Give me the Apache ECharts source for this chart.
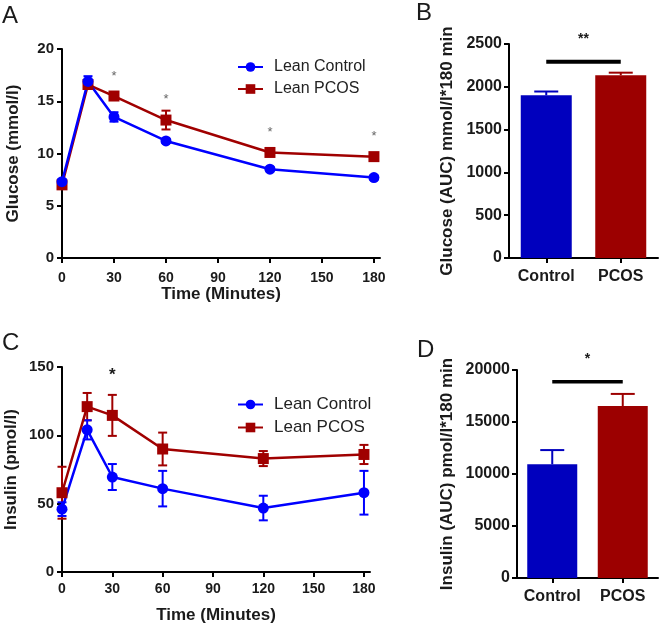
<!DOCTYPE html>
<html>
<head>
<meta charset="utf-8">
<script src="https://cdn.jsdelivr.net/npm/echarts@6/dist/echarts.min.js"></script>
<style>
html,body{margin:0;padding:0;background:#fff;}
#main{width:661px;height:625px;}
</style>
</head>
<body>
<div id="main"></div>
<script>
// ---- data ----
const timeMin = [0, 15, 30, 60, 120, 180];
const timeTicks = [0, 30, 60, 90, 120, 150, 180];

const glucoseControl = [7.3, 16.9, 13.5, 11.2, 8.5, 7.7];
const glucoseControlSem = [0.25, 0.5, 0.45, 0.2, 0.2, 0.2];
const glucosePcos = [7.0, 16.6, 15.5, 13.2, 10.1, 9.7];
const glucosePcosSem = [0.2, 0.3, 0.3, 0.9, 0.2, 0.2];
const glucoseSigTimes = [30, 60, 120, 180];
const glucoseSigLevel = [17.4, 15.2, 12.0, 11.6];

const insulinControl = [46, 104, 69.5, 61, 46.8, 58];
const insulinControlSem = [5, 7, 9.5, 13, 9, 16];
const insulinPcos = [58, 121, 114.6, 90, 83, 86];
const insulinPcosSem = [19, 10, 15, 12, 5.5, 7];
const insulinSigTimes = [30];
const insulinSigLevel = [143.9];

const groups = ['Control', 'PCOS'];
const glucoseAuc = [1900, 2135];
const glucoseAucSem = [45, 30];
const glucoseAucSigLevel = 2293;
const glucoseAucStarLevel = 2560;

const insulinAuc = [10930, 16540];
const insulinAucSem = [1370, 1160];
const insulinAucSigLevel = 18880;
const insulinAucStarLevel = 21070;

// ---- styles ----
const ff = "Arial, 'Liberation Sans', sans-serif";
const ink = '#1a1a1a';
const blueLine = '#0000FF';
const redLine = '#A00000';
const blueBar = '#0000BE';
const redBar = '#9C0000';

function pairs(xs, ys) { return xs.map((x, i) => [x, ys[i]]); }
function errData(xs, ys, sem) { return xs.map((x, i) => [x, ys[i] - sem[i], ys[i] + sem[i]]); }

function errRender(color, capW, upOnly) {
  return function (params, api) {
    const x = api.value(0), lo = api.value(1), hi = api.value(2);
    const pL = api.coord([x, lo]);
    const pH = api.coord([x, hi]);
    const st = { stroke: color, lineWidth: 2 };
    const ch = [
      { type: 'line', shape: { x1: pL[0], y1: pL[1], x2: pH[0], y2: pH[1] }, style: st },
      { type: 'line', shape: { x1: pH[0] - capW / 2, y1: pH[1], x2: pH[0] + capW / 2, y2: pH[1] }, style: st }
    ];
    if (!upOnly) ch.push({ type: 'line', shape: { x1: pL[0] - capW / 2, y1: pL[1], x2: pL[0] + capW / 2, y2: pL[1] }, style: st });
    return { type: 'group', children: ch };
  };
}

function textRender(text, font, color) {
  return function (params, api) {
    const p = api.coord([api.value(0), api.value(1)]);
    return { type: 'text', style: { text: text, x: p[0], y: p[1], align: 'center', verticalAlign: 'middle', font: font, fill: color } };
  };
}
// star centred between two categories
function midTextRender(text, font, color) {
  return function (params, api) {
    const p1 = api.coord([api.value(0), api.value(2)]);
    const p2 = api.coord([api.value(1), api.value(2)]);
    return { type: 'text', style: { text: text, x: (p1[0] + p2[0]) / 2, y: p1[1], align: 'center', verticalAlign: 'middle', font: font, fill: color } };
  };
}

function sigBarRender(width) {
  return function (params, api) {
    const p1 = api.coord([api.value(0), api.value(2)]);
    const p2 = api.coord([api.value(1), api.value(2)]);
    return { type: 'line', shape: { x1: p1[0], y1: p1[1], x2: p2[0], y2: p2[1] }, style: { stroke: '#000', lineWidth: width } };
  };
}

const axisLine = { show: true, lineStyle: { color: '#000', width: 2 } };
const axisTick = { show: true, length: 5, lineStyle: { color: '#000', width: 2 } };
const plain = v => String(v);

function timeAxis(grid, max, gap, margin) {
  return {
    type: 'value', gridIndex: grid, min: 0, max: max,
    axisLine: axisLine,
    axisTick: Object.assign({ customValues: timeTicks }, axisTick),
    axisLabel: { customValues: timeTicks, formatter: plain, fontFamily: ff, fontWeight: 'bold', fontSize: 14, color: ink, margin: margin },
    splitLine: { show: false },
    name: 'Time (Minutes)', nameLocation: 'middle', nameGap: gap,
    nameTextStyle: { fontFamily: ff, fontWeight: 'bold', fontSize: 17, color: ink }
  };
}
function valAxis(grid, max, interval, name, gap, fs, margin) {
  return {
    type: 'value', gridIndex: grid, min: 0, max: max, interval: interval,
    axisLine: axisLine, axisTick: axisTick,
    axisLabel: { formatter: plain, fontFamily: ff, fontWeight: 'bold', fontSize: fs, color: ink, margin: margin },
    splitLine: { show: false },
    name: name, nameLocation: 'middle', nameGap: gap,
    nameTextStyle: { fontFamily: ff, fontWeight: 'bold', fontSize: 17, color: ink }
  };
}
function catAxis(grid) {
  return {
    type: 'category', gridIndex: grid, data: groups,
    axisLine: axisLine, axisTick: Object.assign({ alignWithLabel: true }, axisTick),
    axisLabel: { interval: 0, fontFamily: ff, fontWeight: 'bold', fontSize: 16, color: ink, margin: 11 }
  };
}

function legend(top, fs, gap) {
  return {
    data: ['Lean Control', 'Lean PCOS'], orient: 'vertical', left: 232, top: top,
    itemWidth: 25, itemHeight: 12, itemGap: gap,
    textStyle: { fontFamily: ff, fontSize: fs, color: '#222', padding: [0, 0, 0, 6] }
  };
}

const option = {
  animation: false,
  backgroundColor: '#fff',
  grid: [
    { left: 62, top: 49, width: 318, height: 209 },
    { left: 509, top: 44, width: 149, height: 214 },
    { left: 62, top: 367, width: 308, height: 205 },
    { left: 517, top: 370, width: 141, height: 208 }
  ],
  xAxis: [
    timeAxis(0, 183.5, 27, 13),
    catAxis(1),
    timeAxis(2, 183.6, 35, 10),
    catAxis(3)
  ],
  yAxis: [
    valAxis(0, 20, 5, 'Glucose (mmol/l)', 40, 15, 8),
    valAxis(1, 2500, 500, 'Glucose (AUC) mmol/l*180 min', 53, 16, 7),
    valAxis(2, 150, 50, 'Insulin (pmol/l)', 42, 15, 8),
    valAxis(3, 20000, 5000, 'Insulin (AUC) pmol/l*180 min', 61, 16, 7)
  ],
  legend: [legend(54, 16, 6), legend(391, 17, 6)],
  graphic: [
    { type: 'text', left: 2, top: 4, style: { text: 'A', font: '24px ' + ff, fill: ink } },
    { type: 'text', left: 416, top: 1, style: { text: 'B', font: '24px ' + ff, fill: ink } },
    { type: 'text', left: 2, top: 331, style: { text: 'C', font: '24px ' + ff, fill: ink } },
    { type: 'text', left: 417, top: 338, style: { text: 'D', font: '24px ' + ff, fill: ink } }
  ],
  series: [
    // Panel A
    { type: 'custom', xAxisIndex: 0, yAxisIndex: 0, renderItem: errRender(redLine, 9), data: errData(timeMin, glucosePcos, glucosePcosSem), encode: { x: 0, y: [1, 2] }, silent: true },
    { type: 'line', name: 'Lean PCOS', xAxisIndex: 0, yAxisIndex: 0, data: pairs(timeMin, glucosePcos), symbol: 'rect', symbolSize: 11, color: redLine, lineStyle: { width: 2.5, color: redLine } },
    { type: 'custom', xAxisIndex: 0, yAxisIndex: 0, renderItem: errRender(blueLine, 9), data: errData(timeMin, glucoseControl, glucoseControlSem), encode: { x: 0, y: [1, 2] }, silent: true },
    { type: 'line', name: 'Lean Control', xAxisIndex: 0, yAxisIndex: 0, data: pairs(timeMin, glucoseControl), symbol: 'circle', symbolSize: 11, color: blueLine, lineStyle: { width: 2.5, color: blueLine } },
    { type: 'custom', xAxisIndex: 0, yAxisIndex: 0, renderItem: textRender('*', '13px ' + ff, '#666'), data: pairs(glucoseSigTimes, glucoseSigLevel), encode: { x: 0, y: 1 }, silent: true },
    // Panel B
    { type: 'bar', xAxisIndex: 1, yAxisIndex: 1, barWidth: 51, data: glucoseAuc.map((v, i) => ({ value: v, itemStyle: { color: i === 0 ? blueBar : redBar } })) },
    { type: 'custom', xAxisIndex: 1, yAxisIndex: 1, renderItem: function (p, api) { return errRender(p.dataIndex === 0 ? blueBar : redBar, 24, true)(p, api); }, data: glucoseAuc.map((v, i) => [i, v, v + glucoseAucSem[i]]), encode: { x: 0, y: [1, 2] }, silent: true, z: 1 },
    { type: 'custom', xAxisIndex: 1, yAxisIndex: 1, renderItem: sigBarRender(4), data: [[0, 1, glucoseAucSigLevel]], encode: { x: [0, 1], y: 2 }, silent: true },
    { type: 'custom', xAxisIndex: 1, yAxisIndex: 1, renderItem: midTextRender('**', 'bold 14px ' + ff, ink), data: [[0, 1, glucoseAucStarLevel]], encode: { x: [0, 1], y: 2 }, silent: true },
    // Panel C
    { type: 'custom', xAxisIndex: 2, yAxisIndex: 2, renderItem: errRender(redLine, 9), data: errData(timeMin, insulinPcos, insulinPcosSem), encode: { x: 0, y: [1, 2] }, silent: true },
    { type: 'line', name: 'Lean PCOS', xAxisIndex: 2, yAxisIndex: 2, data: pairs(timeMin, insulinPcos), symbol: 'rect', symbolSize: 11, color: redLine, lineStyle: { width: 2.5, color: redLine } },
    { type: 'custom', xAxisIndex: 2, yAxisIndex: 2, renderItem: errRender(blueLine, 9), data: errData(timeMin, insulinControl, insulinControlSem), encode: { x: 0, y: [1, 2] }, silent: true },
    { type: 'line', name: 'Lean Control', xAxisIndex: 2, yAxisIndex: 2, data: pairs(timeMin, insulinControl), symbol: 'circle', symbolSize: 11, color: blueLine, lineStyle: { width: 2.5, color: blueLine } },
    { type: 'custom', xAxisIndex: 2, yAxisIndex: 2, renderItem: textRender('*', 'bold 17px ' + ff, ink), data: pairs(insulinSigTimes, insulinSigLevel), encode: { x: 0, y: 1 }, silent: true },
    // Panel D
    { type: 'bar', xAxisIndex: 3, yAxisIndex: 3, barWidth: 50, data: insulinAuc.map((v, i) => ({ value: v, itemStyle: { color: i === 0 ? blueBar : redBar } })) },
    { type: 'custom', xAxisIndex: 3, yAxisIndex: 3, renderItem: function (p, api) { return errRender(p.dataIndex === 0 ? blueBar : redBar, 24, true)(p, api); }, data: insulinAuc.map((v, i) => [i, v, v + insulinAucSem[i]]), encode: { x: 0, y: [1, 2] }, silent: true, z: 1 },
    { type: 'custom', xAxisIndex: 3, yAxisIndex: 3, renderItem: sigBarRender(3.5), data: [[0, 1, insulinAucSigLevel]], encode: { x: [0, 1], y: 2 }, silent: true },
    { type: 'custom', xAxisIndex: 3, yAxisIndex: 3, renderItem: midTextRender('*', 'bold 14px ' + ff, ink), data: [[0, 1, insulinAucStarLevel]], encode: { x: [0, 1], y: 2 }, silent: true }
  ]
};

const chart = echarts.init(document.getElementById('main'), null, { renderer: 'canvas' });
chart.setOption(option);
</script>
</body>
</html>
